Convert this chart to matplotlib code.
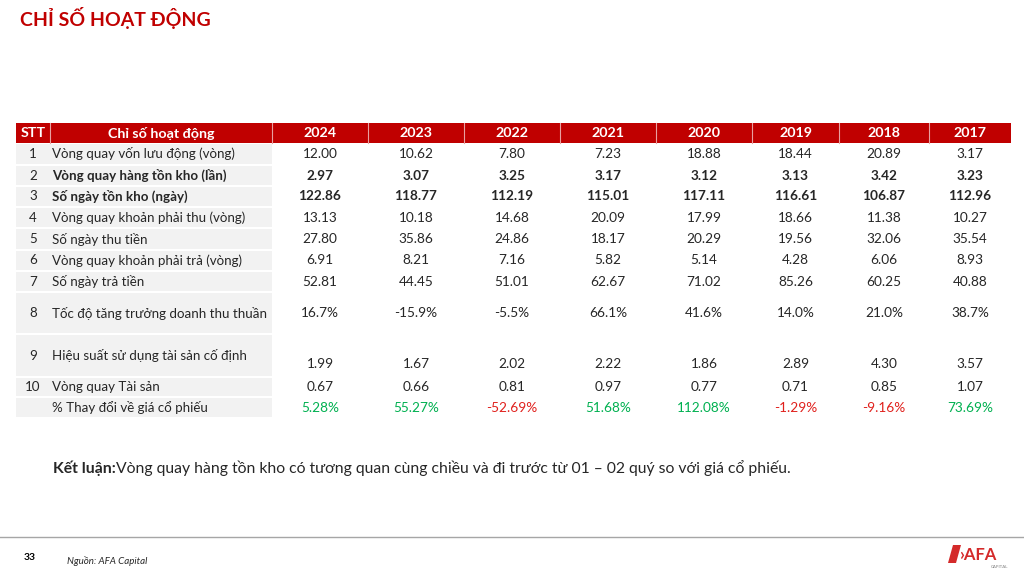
import numpy as np
import matplotlib.pyplot as plt
from matplotlib.patches import Rectangle, Polygon

plt.rcParams['font.family'] = ['Lato', 'DejaVu Sans']

years = ['2024', '2023', '2022', '2021', '2020', '2019', '2018', '2017']
stt = ['1', '2', '3', '4', '5', '6', '7', '8', '9', '10', '']
indicators = [
    'Vòng quay vốn lưu động (vòng)',
    'Vòng quay hàng tồn kho (lần)',
    'Số ngày tồn kho (ngày)',
    'Vòng quay khoản phải thu (vòng)',
    'Số ngày thu tiền',
    'Vòng quay khoản phải trả (vòng)',
    'Số ngày trả tiền',
    'Tốc độ tăng trưởng doanh thu thuần',
    'Hiệu suất sử dụng tài sản cố định',
    'Vòng quay Tài sản',
    '% Thay đổi về giá cổ phiếu',
]
working_capital_turnover = [12.00, 10.62, 7.80, 7.23, 18.88, 18.44, 20.89, 3.17]
inventory_turnover = [2.97, 3.07, 3.25, 3.17, 3.12, 3.13, 3.42, 3.23]
inventory_days = [122.86, 118.77, 112.19, 115.01, 117.11, 116.61, 106.87, 112.96]
receivable_turnover = [13.13, 10.18, 14.68, 20.09, 17.99, 18.66, 11.38, 10.27]
collection_days = [27.80, 35.86, 24.86, 18.17, 20.29, 19.56, 32.06, 35.54]
payable_turnover = [6.91, 8.21, 7.16, 5.82, 5.14, 4.28, 6.06, 8.93]
payment_days = [52.81, 44.45, 51.01, 62.67, 71.02, 85.26, 60.25, 40.88]
revenue_growth = [16.7, -15.9, -5.5, 66.1, 41.6, 14.0, 21.0, 38.7]
fixed_asset_eff = [1.99, 1.67, 2.02, 2.22, 1.86, 2.89, 4.30, 3.57]
asset_turnover = [0.67, 0.66, 0.81, 0.97, 0.77, 0.71, 0.85, 1.07]
price_change = [5.28, 55.27, -52.69, 51.68, 112.08, -1.29, -9.16, 73.69]

rows = [working_capital_turnover, inventory_turnover, inventory_days,
        receivable_turnover, collection_days, payable_turnover, payment_days,
        revenue_growth, fixed_asset_eff, asset_turnover, price_change]
fmts = ['{:.2f}'] * 7 + ['{:.1f}%', '{:.2f}', '{:.2f}', '{:.2f}%']
bold_rows = [1, 2]

RED = '#C00000'
TXT = '#262626'

fig = plt.figure(figsize=(10.24, 5.72), dpi=100)
ax = fig.add_axes([0, 0, 1, 1])
ax.set_xlim(0, 1024)
ax.set_ylim(572, 0)
ax.axis('off')

# title
ax.text(20, 18, 'CHỈ SỐ HOẠT ĐỘNG', color=RED, fontsize=14, fontweight='bold',
        ha='left', va='center')

col_x = [16, 50, 272, 368, 464, 560, 656, 752, 839, 929, 1011]
row_y = [123, 143, 165, 186, 207, 228, 250, 271, 292, 334, 377, 397, 418]

# header
ax.add_patch(Rectangle((col_x[0], row_y[0]), col_x[-1] - col_x[0], row_y[1] - row_y[0],
                       color=RED, lw=0))
for xe in col_x[1:-1]:
    ax.plot([xe, xe], [row_y[0], row_y[1]], color='#E8A0A0', lw=0.8)
hy = (row_y[0] + row_y[1]) / 2
heads = ['STT', 'Chỉ số hoạt động'] + years
for i, h in enumerate(heads):
    ax.text((col_x[i] + col_x[i + 1]) / 2, hy, h, color='white', fontsize=10.3,
            fontweight='bold', ha='center', va='center')

# body
for r in range(len(rows)):
    y0, y1 = row_y[r + 1], row_y[r + 2]
    ax.add_patch(Rectangle((col_x[0], y0 + 0.8), col_x[2] - col_x[0], y1 - y0 - 1.6,
                           color='#F2F2F2', lw=0))
    ym = (y0 + y1) / 2
    w = 'bold' if r in bold_rows else 'normal'
    name_y = ym
    val_y = ym + 9 if r == 8 else ym
    ax.text((col_x[0] + col_x[1]) / 2, name_y, stt[r], color=TXT, fontsize=9.6,
            ha='center', va='center')
    ax.text(col_x[1] + 2, name_y, indicators[r], color=TXT, fontsize=9.6,
            fontweight=w, ha='left', va='center')
    for c, v in enumerate(rows[r]):
        col = TXT
        if r == len(rows) - 1:
            col = '#00B050' if v >= 0 else '#E0201C'
        ax.text((col_x[c + 2] + col_x[c + 3]) / 2, val_y, fmts[r].format(v),
                color=col, fontsize=9.8, fontweight=w, ha='center', va='center')

# conclusion
ax.text(53, 468, 'Kết luận:', color=TXT, fontsize=11.3, fontweight='bold',
        ha='left', va='center')
ax.text(116, 468, 'Vòng quay hàng tồn kho có tương quan cùng chiều và đi trước từ 01 – 02 quý so với giá cổ phiếu.',
        color=TXT, fontsize=11.3, ha='left', va='center')

# footer
ax.plot([0, 1024], [537, 537], color='#A6A6A6', lw=1)
ax.text(24, 557, '33', color='black', fontsize=7.5, fontweight='bold', ha='left', va='center')
ax.text(67, 561, 'Nguồn: AFA Capital', color=TXT, fontsize=7, style='italic',
        ha='left', va='center')

# logo
ax.add_patch(Polygon([[953, 545], [961, 545], [956, 563], [948, 563]], color='#D42A2A', lw=0))
ax.text(959, 555, '›AFA', color='#D42A2A', fontsize=12, fontweight='bold',
        ha='left', va='center')
ax.text(1008, 567, 'CAPITAL', color='#808080', fontsize=3.2, ha='right', va='center')

fig.savefig('out.png', dpi=100)
